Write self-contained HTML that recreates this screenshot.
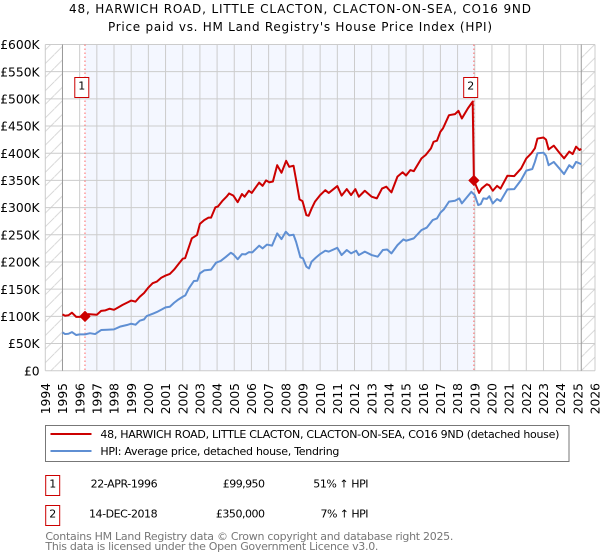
<!DOCTYPE html>
<html lang="en">
<head>
<meta charset="utf-8">
<title>48, Harwich Road price chart</title>
<style>
html,body{margin:0;padding:0;background:#fff;width:600px;height:560px;overflow:hidden}
svg{display:block;font-family:"DejaVu Sans","Liberation Sans",sans-serif}
</style>
</head>
<body>
<svg id="chart" xmlns="http://www.w3.org/2000/svg" width="600" height="560" viewBox="0 0 600 560">
  <defs>
    <pattern id="hatch" patternUnits="userSpaceOnUse" width="13.6" height="13.6">
      <path d="M-1 14.6L14.6 -1" stroke="#d0d0d0" stroke-width="0.8" fill="none"/>
    </pattern>
  </defs>
  <rect x="0" y="0" width="600" height="560" fill="#ffffff"/>
  <text x="300" y="13" text-anchor="middle" font-size="12" textLength="462" fill="#000">48, HARWICH ROAD, LITTLE CLACTON, CLACTON-ON-SEA, CO16 9ND</text>
  <text x="300" y="31" text-anchor="middle" font-size="12" textLength="384" fill="#000">Price paid vs. HM Land Registry's House Price Index (HPI)</text>
  <g id="plot"></g>

  <g>
    <rect x="45.5" y="425.5" width="523.5" height="36" fill="#fff" stroke="#777" stroke-width="1"/>
    <line x1="50.5" x2="91.5" y1="434" y2="434" stroke="#cc0000" stroke-width="2"/>
    <text x="100.4" y="438" font-size="11" textLength="459" fill="#000">48, HARWICH ROAD, LITTLE CLACTON, CLACTON-ON-SEA, CO16 9ND (detached house)</text>
    <line x1="50.5" x2="91.5" y1="451" y2="451" stroke="#5f8fd3" stroke-width="2"/>
    <text x="100.4" y="455" font-size="11" textLength="239" fill="#000">HPI: Average price, detached house, Tendring</text>
  </g>

  <g font-size="11" fill="#000">
    <rect x="45.7" y="475.5" width="14" height="20" fill="#fff" stroke="#cc0000" stroke-width="1"/>
    <text x="52.7" y="487.5" text-anchor="middle">1</text>
    <text x="157.6" y="487.5" text-anchor="end" textLength="67">22-APR-1996</text>
    <text x="265" y="487.5" text-anchor="end" textLength="42.2">£99,950</text>
    <text x="368.5" y="487.5" text-anchor="end" textLength="55.2">51% ↑ HPI</text>
    <rect x="45.7" y="505.5" width="14" height="20" fill="#fff" stroke="#cc0000" stroke-width="1"/>
    <text x="52.7" y="517.5" text-anchor="middle">2</text>
    <text x="157.6" y="517.5" text-anchor="end" textLength="68.6">14-DEC-2018</text>
    <text x="265" y="517.5" text-anchor="end" textLength="49.1">£350,000</text>
    <text x="368.5" y="517.5" text-anchor="end" textLength="48">7% ↑ HPI</text>
  </g>

  <text x="45.4" y="540" font-size="11" textLength="408" fill="#777">Contains HM Land Registry data © Crown copyright and database right 2025.</text>
  <text x="45.4" y="550" font-size="11" textLength="333" fill="#777">This data is licensed under the Open Government Licence v3.0.</text>
</svg>
<script>
var xTickYears = [1994,1995,1996,1997,1998,1999,2000,2001,2002,2003,2004,2005,2006,2007,2008,2009,2010,2011,2012,2013,2014,2015,2016,2017,2018,2019,2020,2021,2022,2023,2024,2025,2026];
var yTickValues = [0,50,100,150,200,250,300,350,400,450,500,550,600];
var yTickLabels = ['£0','£50K','£100K','£150K','£200K','£250K','£300K','£350K','£400K','£450K','£500K','£550K','£600K'];
var saleDates = [1996.31,2018.95];
var salePrices = [99.95,350];
var saleNumbers = ['1','2'];
var dataStart = 1995;
var dataEnd = 2025.2;

var priceDates = [1995,1995.15,1995.35,1995.55,1995.8,1996,1996.31,1996.5,1997,1997.25,1997.5,1997.75,1998,1998.25,1998.5,1998.75,1999,1999.25,1999.5,1999.75,2000,2000.25,2000.5,2000.75,2001,2001.25,2001.5,2001.75,2002,2002.14,2002.53,2002.83,2003,2003.25,2003.5,2003.65,2003.9,2004.05,2004.3,2004.55,2004.7,2004.95,2005.2,2005.45,2005.6,2005.85,2006.02,2006.2,2006.45,2006.65,2006.85,2007.05,2007.25,2007.5,2007.75,2008.02,2008.2,2008.45,2008.6,2008.8,2008.97,2009.2,2009.33,2009.5,2009.7,2010,2010.3,2010.5,2011,2011.25,2011.55,2011.8,2012.05,2012.25,2012.6,2013,2013.3,2013.6,2013.85,2014.15,2014.5,2014.8,2015,2015.25,2015.45,2015.9,2016.15,2016.45,2016.6,2016.8,2017,2017.15,2017.5,2017.85,2018.05,2018.25,2018.6,2018.88,2018.95,2019.25,2019.4,2019.7,2019.85,2020.05,2020.3,2020.5,2020.9,2021.3,2021.7,2022,2022.3,2022.5,2022.65,2023,2023.15,2023.3,2023.6,2023.95,2024.2,2024.5,2024.7,2024.9,2025.1,2025.2];
var priceValues = [103.6,101,102,106.7,99,99,99.95,104,103,110,111,114,112,116.5,121,125,129,127,136,143,153,161,164,171,175,178,186,196,206,207,243.5,249.5,270,277,281.5,281.5,300.5,302,312,320,326,322,310,325,320,331,327,335,346,340,350,346.5,348,378,364,386,375,377,351,315,312,286,285,298,311,323,332,327,339.6,322,334,323,334,320,331,320,317,335,338.5,328,357,365,359,369,367,390.5,397,409,421,423,439.6,445.7,470,472,478,464,482.5,495,350,327,335,343,341,331,340,335,358.6,358,372,390.5,400,409,427,429,425,407,414,400,390.5,403,398.5,412,406,408];

var hpiDates = [1995,1995.15,1995.35,1995.55,1995.8,1996,1996.31,1996.6,1996.9,1997.25,1997.6,1998,1998.35,1998.75,1999,1999.25,1999.5,1999.75,1999.9,2000.3,2000.5,2000.8,2001,2001.25,2001.5,2001.75,2002,2002.15,2002.35,2002.65,2002.85,2003,2003.25,2003.65,2003.95,2004.2,2004.5,2004.8,2004.95,2005.2,2005.45,2005.65,2005.85,2006.05,2006.45,2006.65,2006.9,2007.2,2007.5,2007.75,2008,2008.2,2008.45,2008.6,2008.85,2009,2009.2,2009.35,2009.5,2009.75,2010,2010.3,2010.5,2011,2011.25,2011.55,2011.8,2012.1,2012.25,2012.6,2013,2013.35,2013.65,2013.9,2014.15,2014.5,2014.85,2015,2015.45,2015.9,2016.2,2016.55,2016.8,2017,2017.2,2017.5,2017.85,2018.1,2018.25,2018.8,2019,2019.2,2019.35,2019.5,2019.7,2019.85,2020.05,2020.3,2020.5,2020.9,2021.3,2021.7,2022,2022.35,2022.5,2022.65,2023,2023.15,2023.3,2023.6,2023.9,2024.2,2024.5,2024.7,2024.9,2025.2];
var hpiValues = [70.5,67.4,68,71,65.6,66.8,66.8,69,67.4,74.8,75.4,76,81,84,86.4,84.6,92,94.4,100.5,105.4,108,113,116.5,117.7,125,131,136,138.5,151,165,165.5,179,184.5,186,199,201.7,209,217,214,205,214.5,214,218,217.6,230,225,232,230,252.6,242,255.6,249,250,237,208.5,206.7,191.3,188,200.5,208,214.6,220.7,219,226,212.7,222,215.8,220.7,212.7,219,212.7,209.7,222,223,215.8,231,241.6,239,243.4,258.7,263,277,280,290.6,296.7,311,312.7,317,307.8,329,323,304.7,306.5,317,316,321,307.7,315.7,312,333.5,334,350.7,368,371,384,400,401,395.4,378,384,373,361.7,378,373,384,380];

var plotLeft = 45.3, plotRight = 595, plotTop = 44.5, plotBottom = 370.7;
var SVGNS = 'http://www.w3.org/2000/svg';
var plot = document.getElementById('plot');

function xScale(year){ return plotLeft + (year - 1994) * (plotRight - plotLeft) / 32; }
function yScale(v){ return plotBottom - v * (plotBottom - plotTop) / 600; }
function make(tag){ return document.createElementNS(SVGNS, tag); }
function setAll(el, o){ for (var k in o) el.setAttribute(k, o[k]); plot.appendChild(el); return el; }
function linePath(dates, values){
  var d = '';
  for (var i = 0; i < dates.length; i++) d += (i ? 'L' : 'M') + xScale(dates[i]).toFixed(2) + ' ' + yScale(values[i]).toFixed(2);
  return d;
}

var el;
el = make('rect');


setAll(el, {x: plotLeft, y: plotTop, width: plotRight - plotLeft, height: plotBottom - plotTop, fill: '#ffffff'});

el = make('rect');


setAll(el, {x: xScale(saleDates[0]), y: plotTop, width: xScale(saleDates[1]) - xScale(saleDates[0]), height: plotBottom - plotTop, fill: '#f4f7ff'});

el = make('rect');


setAll(el, {x: plotLeft, y: plotTop, width: xScale(dataStart) - plotLeft, height: plotBottom - plotTop, fill: 'url(#hatch)'});

el = make('rect');


setAll(el, {x: xScale(dataEnd), y: plotTop, width: plotRight - xScale(dataEnd), height: plotBottom - plotTop, fill: 'url(#hatch)'});

xTickYears.forEach(function(year){
  var g = make('line');
  
  
  setAll(g, {x1: xScale(year), x2: xScale(year), y1: plotTop, y2: plotBottom, stroke: '#cccccc', 'stroke-width': 1});
  var t = make('text');
  
  
  var bx = xScale(year) + 4.6;
  setAll(t, {x: bx, y: 383, 'text-anchor': 'end', 'font-size': 12.3, fill: '#000', transform: 'rotate(-90 ' + bx + ' 383)'});
  t.textContent = String(year);
});

yTickValues.forEach(function(v, i){
  var g = make('line');
  
  
  setAll(g, {x1: plotLeft, x2: plotRight, y1: yScale(v), y2: yScale(v), stroke: '#cccccc', 'stroke-width': 1});
  var t = make('text');
  
  
  setAll(t, {x: 39.6, y: yScale(v) + 4.6, 'text-anchor': 'end', 'font-size': 12.3, fill: '#000'});
  t.textContent = yTickLabels[i];
});

el = make('line');


setAll(el, {x1: xScale(dataStart), x2: xScale(dataStart), y1: plotTop, y2: plotBottom, stroke: '#999999', 'stroke-width': 1});

el = make('line');


setAll(el, {x1: xScale(dataEnd), x2: xScale(dataEnd), y1: plotTop, y2: plotBottom, stroke: '#999999', 'stroke-width': 1});

saleDates.forEach(function(date){
  var l = make('line');
  
  
  setAll(l, {x1: xScale(date), x2: xScale(date), y1: plotTop, y2: plotBottom, stroke: '#ff6666', 'stroke-width': 1, 'stroke-dasharray': '1.5 2.5'});
});

el = make('path');


setAll(el, {d: linePath(hpiDates, hpiValues), fill: 'none', stroke: '#5f8fd3', 'stroke-width': 2, 'stroke-linejoin': 'round'});

el = make('path');


setAll(el, {d: linePath(priceDates, priceValues), fill: 'none', stroke: '#cc0000', 'stroke-width': 2, 'stroke-linejoin': 'round'});

saleDates.forEach(function(date, i){
  var cx = xScale(date), cy = yScale(salePrices[i]), r = 5;
  var m = make('polygon');
  
  
  setAll(m, {points: cx + ',' + (cy - r) + ' ' + (cx + r) + ',' + cy + ' ' + cx + ',' + (cy + r) + ' ' + (cx - r) + ',' + cy, fill: '#cc0000', stroke: '#cc0000', 'stroke-width': 1, 'stroke-linejoin': 'round'});
  var b = make('rect');
  
  
  setAll(b, {x: cx - 10.2, y: 77.5, width: 14, height: 20, fill: '#ffffff', stroke: '#cc0000', 'stroke-width': 1});
  var t = make('text');
  
  
  setAll(t, {x: cx - 3.2, y: 89.5, 'text-anchor': 'middle', 'font-size': 11, fill: '#000'});
  t.textContent = saleNumbers[i];
});
</script>
</body>
</html>
